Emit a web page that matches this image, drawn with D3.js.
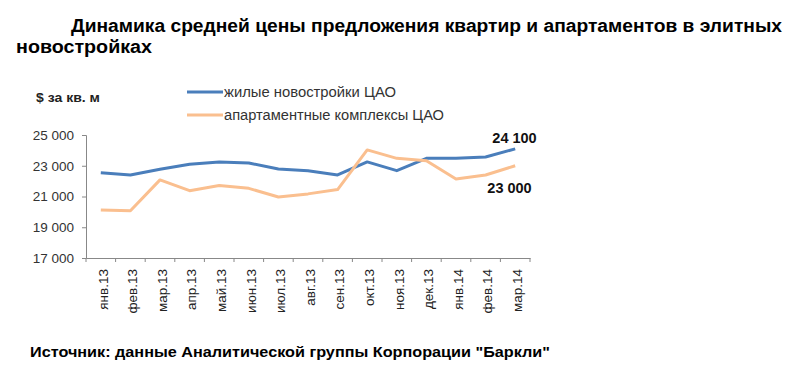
<!DOCTYPE html>
<html>
<head>
<meta charset="utf-8">
<script src="https://cdn.jsdelivr.net/npm/d3@7"></script>
<style>
  body { margin: 0; background: #fff; }
  svg { font-family: "Liberation Sans", Arial, sans-serif; }
</style>
</head>
<body>
<div id="chart"></div>
<script>
// data
const months = ["янв.13", "фев.13", "мар.13", "апр.13", "май.13", "июн.13", "июл.13", "авг.13",
                "сен.13", "окт.13", "ноя.13", "дек.13", "янв.14", "фев.14", "мар.14"];
const living = [22550, 22400, 22770, 23100, 23250, 23180, 22790, 22680, 22400, 23250, 22680, 23480, 23480, 23570, 24100];
const apartments = [20130, 20070, 22080, 21380, 21710, 21530, 20970, 21170, 21450, 24030, 23480, 23330, 22140, 22400, 23000];
const yTicks = [17000, 19000, 21000, 23000, 25000];
const seriesNames = ["жилые новостройки ЦАО", "апартаментные комплексы ЦАО"];
const colors = ["#4a7ebb", "#fabf8f"];

const W = 791, H = 367;
const svg = d3.select("#chart").append("svg").attr("width", W).attr("height", H);

const plotLeft = 86, plotRight = 530, plotTop = 135, plotBottom = 258;

const x = d3.scaleBand().domain(months).range([plotLeft, plotRight]);
const y = d3.scaleLinear().domain([17000, 25000]).range([plotBottom, plotTop]);

const fmt = v => d3.format(",")(v).replace(",", " ");

// title
svg.append("text").attr("x", 71).attr("y", 32)
  .attr("font-size", 18).attr("font-weight", "bold").attr("fill", "#000")
  .attr("textLength", 711).attr("lengthAdjust", "spacingAndGlyphs")
  .text("Динамика средней цены предложения квартир и апартаментов в элитных");
svg.append("text").attr("x", 16).attr("y", 53)
  .attr("font-size", 18).attr("font-weight", "bold").attr("fill", "#000")
  .attr("textLength", 136).attr("lengthAdjust", "spacingAndGlyphs")
  .text("новостройках");

// unit label
svg.append("text").attr("x", 36).attr("y", 102)
  .attr("font-size", 13).attr("font-weight", "bold").attr("fill", "#222")
  .attr("textLength", 64).attr("lengthAdjust", "spacingAndGlyphs")
  .text("$ за кв. м");

// legend
const legendWidths = [172, 220];
seriesNames.forEach((name, i) => {
  const ly = 92 + i * 23;
  svg.append("line").attr("x1", 187).attr("x2", 223).attr("y1", ly).attr("y2", ly)
    .attr("stroke", colors[i]).attr("stroke-width", 3);
  svg.append("text").attr("x", 224).attr("y", ly + 5)
    .attr("font-size", 14).attr("fill", "#333")
    .attr("textLength", legendWidths[i]).attr("lengthAdjust", "spacingAndGlyphs")
    .text(name);
});

// y axis
const yAxis = svg.append("g").attr("transform", `translate(${plotLeft},0)`)
  .call(d3.axisLeft(y).tickValues(yTicks).tickSize(4).tickPadding(8).tickFormat(fmt));
yAxis.select(".domain").attr("stroke", "#888");
yAxis.selectAll(".tick line").attr("stroke", "#888");
yAxis.selectAll(".tick text").attr("font-size", 13.5).attr("fill", "#333")
  .attr("font-family", "Liberation Sans, Arial, sans-serif");

// x axis
const xAxis = svg.append("g").attr("transform", `translate(0,${plotBottom})`)
  .call(d3.axisBottom(x).tickSize(0).tickPadding(0));
xAxis.select(".domain").attr("stroke", "#888");
xAxis.selectAll(".tick text")
  .attr("font-size", 13.5).attr("fill", "#222")
  .attr("font-family", "Liberation Sans, Arial, sans-serif")
  .attr("transform", "rotate(-90)")
  .attr("text-anchor", "end")
  .attr("dy", "0.35em")
  .attr("x", -11).attr("y", 2);
// category boundary ticks
svg.append("g").selectAll("line")
  .data(months.concat([null]))
  .join("line")
  .attr("x1", (d, i) => plotLeft + i * x.step()).attr("x2", (d, i) => plotLeft + i * x.step())
  .attr("y1", plotBottom).attr("y2", plotBottom + 4)
  .attr("stroke", "#888");

// lines
const line = d3.line()
  .x((d, i) => x(months[i]) + x.bandwidth() / 2)
  .y(d => y(d));

[living, apartments].forEach((s, i) => {
  svg.append("path").datum(s).attr("d", line)
    .attr("fill", "none").attr("stroke", colors[i]).attr("stroke-width", 3)
    .attr("stroke-linejoin", "round");
});

// end labels
const lastX = x(months[months.length - 1]) + x.bandwidth() / 2;
svg.append("text").attr("x", lastX + 21.5).attr("y", y(living[14]) - 6)
  .attr("text-anchor", "end").attr("font-size", 14.5).attr("font-weight", "bold").attr("fill", "#111")
  .text(fmt(living[14]));
svg.append("text").attr("x", lastX + 16.5).attr("y", y(apartments[14]) + 27.5)
  .attr("text-anchor", "end").attr("font-size", 14.5).attr("font-weight", "bold").attr("fill", "#111")
  .text(fmt(apartments[14]));

// source
svg.append("text").attr("x", 30).attr("y", 357)
  .attr("font-size", 14).attr("font-weight", "bold").attr("fill", "#000")
  .attr("textLength", 520).attr("lengthAdjust", "spacingAndGlyphs")
  .text("Источник: данные Аналитической группы Корпорации \"Баркли\"");
</script>
</body>
</html>
